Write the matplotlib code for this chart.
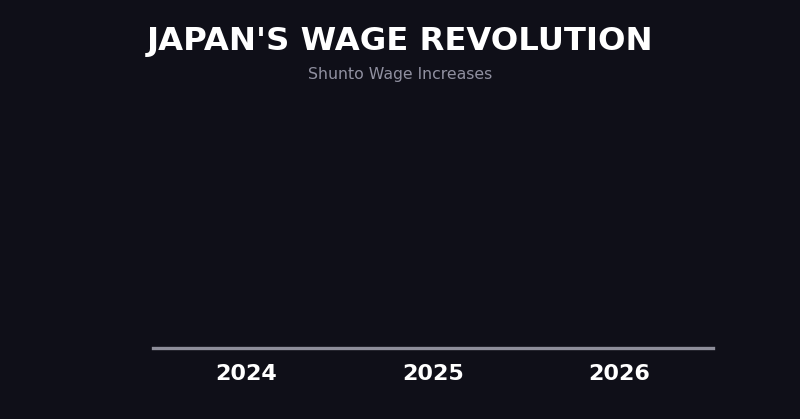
import matplotlib
matplotlib.use("Agg")
import matplotlib.pyplot as plt
import matplotlib.transforms as mtrans
import numpy as np

# Shunto wage increase bars (drawn at their start state: zero height)
years = ["2024", "2025", "2026"]
values = [0.0, 0.0, 0.0]

bg = "#0f0f18"

fig = plt.figure(figsize=(8, 4.19), dpi=100)
fig.patch.set_facecolor(bg)
ax = fig.add_axes([0.19125, 0.1706, 0.7, 0.58])
ax.set_facecolor(bg)

x = np.arange(len(years))

# soft shadow under each bar
shadow = mtrans.offset_copy(ax.transData, fig=fig, x=6, y=-4, units="dots")
ax.bar(x, values, width=0.64, color="#020203", edgecolor="#020203",
       linewidth=2, transform=shadow, zorder=1)
ax.bar(x, values, width=0.64, color="#e03050", linewidth=0, zorder=2)

ax.axhline(0, color="#8e8e9a", lw=2.4, zorder=3, clip_on=False)

ax.set_xlim(-0.5, 2.5)
ax.set_ylim(0, 6)
ax.set_xticks(x)
ax.set_xticklabels(years, fontsize=16, fontweight="bold", color="white")
ax.tick_params(axis="x", length=0, pad=12)
ax.set_yticks([])
for s in ax.spines.values():
    s.set_visible(False)

fig.text(0.5, 0.902, "JAPAN'S WAGE REVOLUTION", ha="center", va="center",
         fontsize=23.2, fontweight="bold", color="white")
fig.text(0.5, 0.823, "Shunto Wage Increases", ha="center", va="center",
         fontsize=11.3, color="#9090a0")

fig.savefig("out.png", dpi=100, facecolor=bg)
